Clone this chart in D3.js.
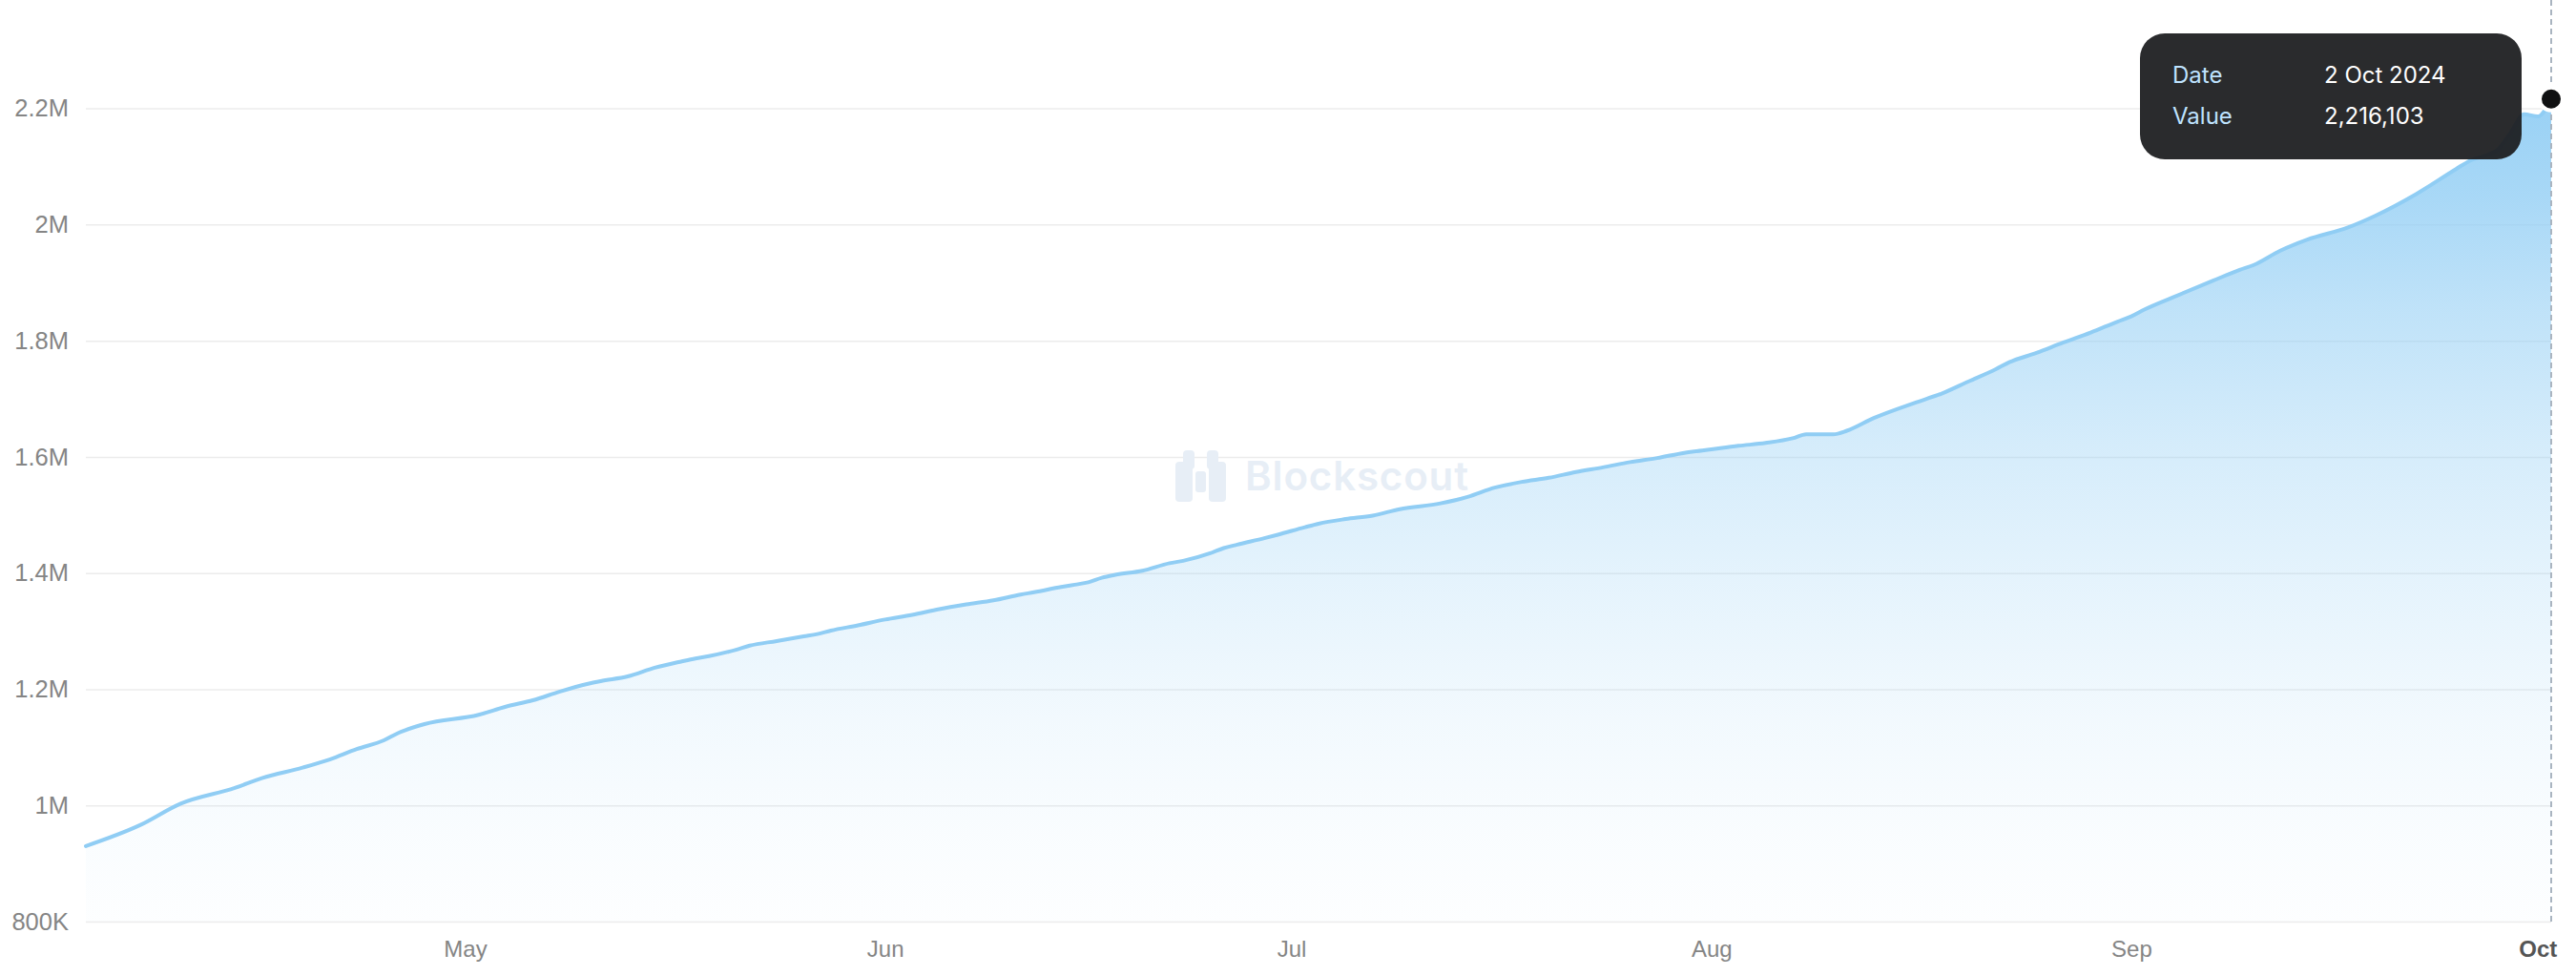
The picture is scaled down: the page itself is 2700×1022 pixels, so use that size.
<!DOCTYPE html>
<html>
<head>
<meta charset="utf-8">
<script src="https://cdn.jsdelivr.net/npm/d3@7"></script>
<style>
  html, body { margin: 0; padding: 0; background: #ffffff; }
  svg { display: block; }
</style>
</head>
<body>
<svg id="chart" width="2700" height="1022"></svg>
<script>
// ---- data ----
const dates = [
  "2024-04-03","2024-04-07","2024-04-10","2024-04-14","2024-04-16","2024-04-19","2024-04-21","2024-04-23",
  "2024-04-25","2024-04-26","2024-04-28","2024-05-02","2024-05-04","2024-05-06","2024-05-08","2024-05-10",
  "2024-05-11","2024-05-13","2024-05-15","2024-05-17","2024-05-18","2024-05-19","2024-05-21","2024-05-22",
  "2024-05-24","2024-05-26","2024-05-27","2024-05-28","2024-05-30","2024-06-01","2024-06-03","2024-06-05",
  "2024-06-07","2024-06-09","2024-06-11","2024-06-12","2024-06-14","2024-06-15","2024-06-16","2024-06-17",
  "2024-06-18","2024-06-20","2024-06-22","2024-06-23","2024-06-25","2024-06-26","2024-06-27","2024-06-29",
  "2024-06-30","2024-07-02","2024-07-03","2024-07-05","2024-07-07","2024-07-09","2024-07-12","2024-07-14",
  "2024-07-16","2024-07-18","2024-07-20","2024-07-22","2024-07-24","2024-07-26","2024-07-28","2024-07-30",
  "2024-08-01","2024-08-03","2024-08-05","2024-08-07","2024-08-08","2024-08-10","2024-08-11","2024-08-13",
  "2024-08-16","2024-08-18","2024-08-20","2024-08-22","2024-08-23","2024-08-25","2024-08-27","2024-08-29",
  "2024-08-31","2024-09-01","2024-09-02","2024-09-04","2024-09-07","2024-09-09","2024-09-10","2024-09-12",
  "2024-09-14","2024-09-17","2024-09-19","2024-09-22","2024-09-25","2024-09-26","2024-09-28","2024-09-29",
  "2024-09-30","2024-10-01","2024-10-02"
];
const values = [
  930000, 966000, 1003000, 1030000, 1047000, 1065000, 1079000, 1097000,
  1112000, 1124000, 1140000, 1156000, 1170000, 1181000, 1196000, 1209000,
  1214000, 1222000, 1237000, 1248000, 1253000, 1257000, 1268000, 1275000,
  1283000, 1291000, 1295000, 1301000, 1310000, 1320000, 1328000, 1338000,
  1346000, 1353000, 1363000, 1367000, 1376000, 1380000, 1384000, 1392000,
  1397000, 1404000, 1417000, 1421000, 1434000, 1443000, 1449000, 1460000,
  1466000, 1479000, 1485000, 1493000, 1499000, 1510000, 1520000, 1531000,
  1547000, 1557000, 1564000, 1574000, 1582000, 1591000, 1598000, 1607000,
  1613000, 1619000, 1624000, 1632000, 1639000, 1639000, 1645000, 1667000,
  1693000, 1709000, 1730000, 1751000, 1763000, 1779000, 1797000, 1814000,
  1833000, 1842000, 1854000, 1874000, 1903000, 1922000, 1930000, 1955000,
  1974000, 1995000, 2015000, 2052000, 2096000, 2110000, 2128000, 2158000,
  2190000, 2186000, 2216103
];
const yTickValues = [800000, 1000000, 1200000, 1400000, 1600000, 1800000, 2000000, 2200000];
const xTickDates = ["2024-05-01","2024-06-01","2024-07-01","2024-08-01","2024-09-01","2024-10-01"];
const watermarkText = "Blockscout";
const tooltipLabels = ["Date", "Value"];

// ---- layout ----
const W = 2700, H = 1022;
const plotLeft = 90, plotRight = 2674, plotBottom = 966, plotTop = 113.6;
const blue = "#90cdf4";

const parse = d3.utcParse("%Y-%m-%d");
const data = dates.map((d, i) => ({ date: parse(d), value: values[i] }));

const x = d3.scaleUtc()
  .domain(d3.extent(data, d => d.date))
  .range([plotLeft, plotRight]);
const y = d3.scaleLinear()
  .domain([yTickValues[0], yTickValues[yTickValues.length - 1]])
  .range([plotBottom, plotTop]);

const svg = d3.select("#chart");
const defs = svg.append("defs");
const grad = defs.append("linearGradient")
  .attr("id", "areaGrad")
  .attr("gradientUnits", "userSpaceOnUse")
  .attr("x1", 0).attr("x2", 0)
  .attr("y1", y(values[values.length - 1])).attr("y2", plotBottom);
[[0, 0.92], [0.12, 0.78], [0.25, 0.58], [0.42, 0.38], [0.58, 0.24], [0.75, 0.12], [0.9, 0.05], [1, 0.02]]
  .forEach(([o, a]) => grad.append("stop").attr("offset", o).attr("stop-color", blue).attr("stop-opacity", a));

// gridlines + y labels
const yAxis = d3.axisLeft(y)
  .tickValues(yTickValues)
  .tickSize(-(plotRight - plotLeft))
  .tickPadding(18)
  .tickFormat(v => v >= 1e6 ? (v / 1e6) + "M" : (v / 1e3) + "K");
const gy = svg.append("g").attr("transform", `translate(${plotLeft},0)`).call(yAxis);
gy.select(".domain").remove();
gy.selectAll(".tick line").attr("stroke", "#ececec").attr("stroke-width", 1.5);
gy.selectAll(".tick text")
  .attr("fill", "#858585")
  .style("font-family", "'Liberation Sans', Arial, sans-serif")
  .style("font-size", "25.5px");

// watermark
const wm = svg.append("g").attr("fill", "#e7eef6");
wm.append("rect").attr("x", 1232).attr("y", 484).attr("width", 18).attr("height", 42).attr("rx", 4);
wm.append("rect").attr("x", 1240).attr("y", 472).attr("width", 12).attr("height", 20).attr("rx", 4);
wm.append("rect").attr("x", 1267).attr("y", 484).attr("width", 18).attr("height", 42).attr("rx", 4);
wm.append("rect").attr("x", 1265).attr("y", 472).attr("width", 12).attr("height", 20).attr("rx", 4);
wm.append("rect").attr("x", 1253).attr("y", 494).attr("width", 11).attr("height", 22).attr("rx", 3);
wm.append("text").attr("x", 1305).attr("y", 514)
  .attr("textLength", 234)
  .style("font-family", "Inter, sans-serif").style("font-weight", 600).style("font-size", "42px")
  .text(watermarkText);

// area + line
const area = d3.area().curve(d3.curveMonotoneX)
  .x(d => x(d.date)).y0(plotBottom).y1(d => y(d.value));
const line = d3.line().curve(d3.curveMonotoneX)
  .x(d => x(d.date)).y(d => y(d.value));
svg.append("path").datum(data).attr("d", area).attr("fill", "url(#areaGrad)");
svg.append("path").datum(data).attr("d", line)
  .attr("fill", "none").attr("stroke", blue).attr("stroke-width", 4)
  .attr("stroke-linejoin", "round").attr("stroke-linecap", "round");

// x axis labels
const xAxis = d3.axisBottom(x)
  .tickValues(xTickDates.map(parse))
  .tickSize(0).tickPadding(20)
  .tickFormat(d3.utcFormat("%b"));
const gx = svg.append("g").attr("transform", `translate(0,${plotBottom})`).call(xAxis);
gx.select(".domain").remove();
gx.selectAll(".tick text")
  .attr("fill", "#858585")
  .style("font-family", "'Liberation Sans', Arial, sans-serif")
  .style("font-size", "24px");
gx.selectAll(".tick").filter((d, i, n) => i === n.length - 1).select("text")
  .attr("fill", "#555").style("font-weight", "bold");

// hover crosshair
const last = data[data.length - 1];
const lx = x(last.date), ly = y(last.value);
svg.append("line").attr("x1", lx).attr("x2", lx).attr("y1", 0).attr("y2", plotBottom + 4)
  .attr("stroke", "#a9b4c0").attr("stroke-width", 2).attr("stroke-dasharray", "6,4");

// tooltip
const tip = svg.append("g");
tip.append("rect").attr("x", 2243).attr("y", 35).attr("width", 400).attr("height", 132).attr("rx", 26)
  .attr("fill", "#1d1e20").attr("fill-opacity", 0.94);
const tipFont = "Inter, 'Noto Sans', sans-serif";
tip.append("text").attr("x", 2277).attr("y", 87).text(tooltipLabels[0])
  .attr("fill", "#bfe3ff").style("font-family", tipFont).style("font-size", "24px");
tip.append("text").attr("x", 2277).attr("y", 130).text(tooltipLabels[1])
  .attr("fill", "#bfe3ff").style("font-family", tipFont).style("font-size", "24px");
tip.append("text").attr("x", 2436).attr("y", 87).text(d3.utcFormat("%-d %b %Y")(last.date))
  .attr("fill", "#ffffff").style("font-family", tipFont).style("font-size", "24px");
tip.append("text").attr("x", 2436).attr("y", 130).text(d3.format(",")(last.value))
  .attr("fill", "#ffffff").style("font-family", tipFont).style("font-size", "24px");

// dot
svg.append("circle").attr("cx", lx).attr("cy", ly).attr("r", 12)
  .attr("fill", "#101112").attr("stroke", "#ffffff").attr("stroke-width", 4);
</script>
</body>
</html>
